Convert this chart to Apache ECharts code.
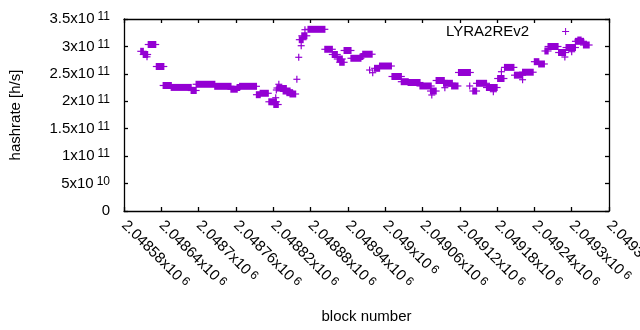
<!DOCTYPE html>
<html><head><meta charset="utf-8">
<script src="https://cdn.jsdelivr.net/npm/echarts@6/dist/echarts.min.js"></script>
<style>html,body{margin:0;padding:0;background:#fff}#c{width:640px;height:330px}</style>
</head><body><div id="c"></div>
<script>
const seriesName = 'LYRA2REv2';
const xTitle = 'block number';
const yTitle = 'hashrate [h/s]';
// runs of blocks with (nearly) the same hashrate estimate: first block, last block, hashrate [h/s]
const runStart = [2048607,2048611,2048617,2048619,2048632,2048643,2048656,2048688,2048696,2048726,
  2048752,2048762,2048766,2048793,2048799,2048813,2048821,2048824,2048825,2048829,
  2048826,2048832,2048836,2048842,2048847,2048858,2048861,2048865,2048862,2048866,
  2048871,2048876,2048903,2048915,2048923,2048927,2048934,2048945,2048961,2048964,
  2048980,2048975,2048983,2048991,2049011,2049026,2049037,2049056,2049073,2049075,
  2049082,2049094,2049096,2049107,2049118,2049136,2049141,2049147,2049163,2049174,
  2049181,2049187,2049192,2049208,2049221,2049221,2049240,2049247,2049257,2049262,
  2049279,2049289,2049291,2049300,2049306,2049310,2049319];
const runEnd = [2048611,2048618,2048617,2048631,2048644,2048656,2048688,2048696,2048726,2048752,
  2048762,2048766,2048793,2048799,2048812,2048825,2048828,2048824,2048825,2048829,
  2048833,2048841,2048847,2048851,2048856,2048858,2048861,2048865,2048868,2048874,
  2048871,2048903,2048915,2048923,2048931,2048934,2048945,2048961,2048964,2048979,
  2048980,2048975,2048991,2049010,2049026,2049037,2049056,2049074,2049082,2049075,
  2049095,2049108,2049096,2049117,2049137,2049136,2049147,2049163,2049180,2049174,
  2049191,2049187,2049207,2049221,2049221,2049238,2049247,2049256,2049262,2049278,
  2049290,2049289,2049306,2049300,2049319,2049315,2049328];
const hashrate = [2.911e11,2.853e11,2.811e11,3.035e11,2.634e11,2.288e11,2.253e11,2.197e11,2.310e11,2.273e11,
  2.220e11,2.251e11,2.273e11,2.120e11,2.146e11,1.991e11,1.941e11,2.065e11,2.206e11,2.310e11,
  2.242e11,2.233e11,2.187e11,2.157e11,2.133e11,2.401e11,2.802e11,3.013e11,3.123e11,3.194e11,
  3.305e11,3.312e11,2.948e11,2.853e11,2.771e11,2.711e11,2.926e11,2.784e11,2.816e11,2.858e11,
  2.521e11,2.570e11,2.601e11,2.643e11,2.452e11,2.357e11,2.342e11,2.279e11,2.187e11,2.115e11,
  2.379e11,2.328e11,2.248e11,2.279e11,2.525e11,2.279e11,2.187e11,2.328e11,2.251e11,2.175e11,
  2.415e11,2.539e11,2.618e11,2.476e11,2.393e11,2.530e11,2.722e11,2.680e11,2.917e11,2.999e11,
  2.889e11,2.807e11,2.980e11,2.904e11,3.093e11,3.117e11,3.026e11];
const xMin = 2048580, xMax = 2049360, xStep = 60;
const yMin = 0, yMax = 3.5e11, yStep = 5e10;

const COLOR = '#9400d3';
const FONT = 'Liberation Sans, Arial, sans-serif';
const HALF = 3.5;
const LW = 1.3;

function sci(v) {
  if (v === 0) return '{m|0}';
  const e = Math.floor(Math.log10(v) + 1e-9);
  const m = parseFloat((v / Math.pow(10, e)).toFixed(6));
  return '{m|' + m + 'x10}{s|' + e + '}';
}
const rich = {
  m: {fontSize: 15, lineHeight: 16, fontFamily: FONT, color: '#000'},
  s: {fontSize: 12, lineHeight: 12, fontFamily: FONT, color: '#000', verticalAlign: 'top', padding: [0, 0, 0, 3]}
};
function tick() { return {show: true, inside: true, length: 4, lineStyle: {color: '#000000', width: LW, opacity: 1}}; }
function aline() { return {show: true, onZero: false, lineStyle: {color: '#000000', width: LW, opacity: 1}}; }

const chart = echarts.init(document.getElementById('c'), null, {renderer: 'canvas'});
chart.setOption({
  animation: false,
  backgroundColor: '#fff',
  grid: {left: 124, right: 31, top: 19, bottom: 119, outerBoundsMode: 'none', show: false},
  legend: {
    data: [{name: seriesName, icon: 'path://M0,3H3V0H4V3H7V4H4V7H3V4H0Z'}],
    left: 446, top: 24, padding: 0, align: 'right',
    itemWidth: 7, itemHeight: 7,
    textStyle: {fontSize: 15, fontFamily: FONT, color: '#000', padding: [0, 28, 0, 0]}
  },
  xAxis: [{
    type: 'value', min: xMin, max: xMax, interval: xStep, position: 'bottom',
    name: xTitle, nameLocation: 'middle', nameGap: 98,
    nameTextStyle: {fontSize: 15, fontFamily: FONT, color: '#000'},
    axisLine: aline(), axisTick: tick(), splitLine: {show: false},
    axisLabel: {rotate: -45, margin: 12, formatter: sci, rich: rich, showMinLabel: true, showMaxLabel: true, hideOverlap: false}
  }, {
    type: 'value', min: xMin, max: xMax, interval: xStep, position: 'top',
    axisLine: aline(), axisTick: tick(), splitLine: {show: false}, axisLabel: {show: false}
  }],
  yAxis: [{
    type: 'value', min: yMin, max: yMax, interval: yStep, position: 'left',
    name: yTitle, nameLocation: 'middle', nameGap: 101,
    nameTextStyle: {fontSize: 15, fontFamily: FONT, color: '#000'},
    axisLine: aline(), axisTick: tick(), splitLine: {show: false},
    axisLabel: {margin: 14, formatter: sci, rich: rich}
  }, {
    type: 'value', min: yMin, max: yMax, interval: yStep, position: 'right',
    axisLine: aline(), axisTick: tick(), splitLine: {show: false}, axisLabel: {show: false}
  }],
  series: [{
    name: seriesName,
    type: 'custom',
    xAxisIndex: 0, yAxisIndex: 0,
    itemStyle: {color: COLOR},
    encode: {x: [0, 1], y: 2},
    data: runStart.map((s, i) => [s, runEnd[i], hashrate[i]]),
    renderItem: function (params, api) {
      const p0 = api.coord([api.value(0), api.value(2)]);
      const p1 = api.coord([api.value(1), api.value(2)]);
      return {
        type: 'group',
        children: [
          {type: 'rect', shape: {x: p0[0] - 0.6, y: p0[1] - HALF, width: p1[0] - p0[0] + 1.2, height: 2 * HALF},
            style: {fill: COLOR}},
          {type: 'line', shape: {x1: p0[0] - HALF, y1: p0[1], x2: p1[0] + HALF, y2: p0[1]},
            style: {stroke: COLOR, lineWidth: 1.2}}
        ]
      };
    }
  }]
});
</script></body></html>
